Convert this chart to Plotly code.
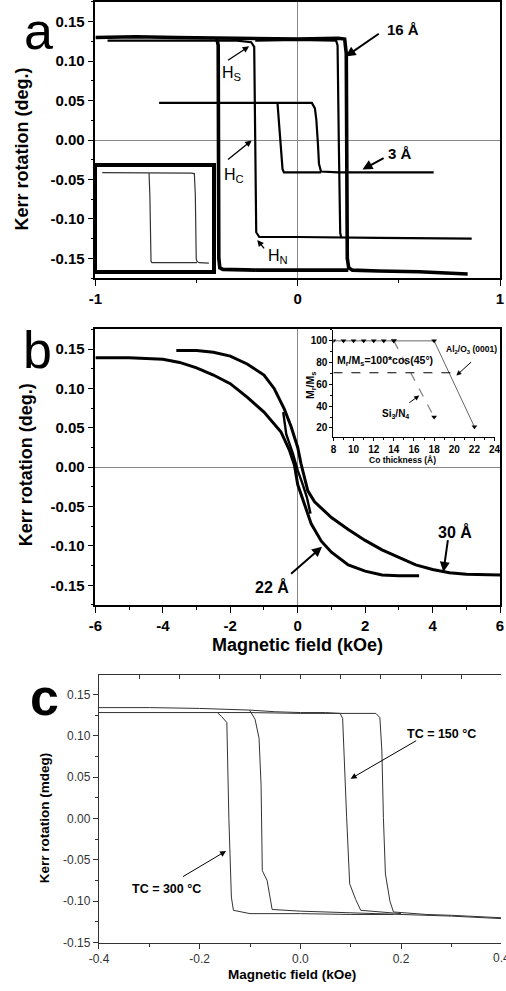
import numpy as np
import plotly.graph_objects as go

W, H = 506, 991
FONT = "Liberation Sans, Arial, Helvetica, sans-serif"

# ---------------- (a) Kerr loops of thin Co films (field in kOe, rotation in deg.)
a16_x = [-1.00, -0.80, -0.60, -0.40, -0.20, 0.00, 0.20, 0.232, 0.240, 0.245, 0.252, 0.27, 0.40, 0.60, 0.84,
         None, -0.400, -0.393, -0.390, -0.385, -0.37, -0.20, 0.00, 0.25]
a16_y = [0.130, 0.131, 0.130, 0.129, 0.129, 0.128, 0.129, 0.128, 0.110, -0.150, -0.162, -0.165, -0.166, -0.167, -0.170,
         None, 0.129, 0.120, -0.150, -0.162, -0.164, -0.165, -0.165, -0.165]

amid_x = [-0.94, -0.60, -0.30, -0.23, -0.215, -0.210, -0.205, -0.19, 0.00, 0.40, 0.86,
          None, -0.21, 0.00, 0.19, 0.197, 0.203, 0.210, 0.215]
amid_y = [0.126, 0.126, 0.126, 0.124, 0.118, 0.000, -0.117, -0.123, -0.123, -0.124, -0.125,
          None, 0.126, 0.127, 0.126, 0.120, 0.000, -0.118, -0.123]

a3_x = [-0.685, -0.40, -0.10, 0.070, 0.085, 0.092, 0.100, 0.105, 0.115, 0.20, 0.40, 0.672,
        None, -0.100, -0.090, -0.080, -0.075, -0.068, 0.00, 0.115]
a3_y = [0.047, 0.047, 0.047, 0.047, 0.040, 0.026, -0.005, -0.030, -0.040, -0.041, -0.041, -0.041,
        None, 0.047, 0.010, -0.025, -0.037, -0.041, -0.041, -0.041]

# small square loop shown in the framed box (normalised units)
ins_a_x = [-1.00, -0.50, 0.00, 0.70, 0.759, 0.778, 0.795, 0.809, 0.85, 1.037,
           None, -0.106, -0.090, -0.068, -0.050, 0.50, 0.809]
ins_a_y = [1.00, 1.00, 0.99, 0.99, 0.98, 0.50, -0.90, -0.963, -0.99, -1.00,
           None, 0.99, 0.50, -0.963, -0.99, -0.99, -0.99]

# ---------------- (b) thicker films, in-plane tilt of the magnetisation
b30_x = [-3.6, -3.0, -2.5, -2.0, -1.5, -1.0, -0.7, -0.4, -0.2, 0.0, 0.1, 0.3, 0.5, 1.0, 1.5, 2.0, 2.5, 3.0,
         3.5, 4.0, 4.5, 5.0, 6.0]
b30_y = [0.148, 0.148, 0.146, 0.141, 0.131, 0.117, 0.100, 0.074, 0.052, 0.025, 0.004, -0.030, -0.044, -0.064,
         -0.079, -0.093, -0.105, -0.115, -0.124, -0.130, -0.134, -0.136, -0.137]

b22_x = [-6.0, -5.0, -4.0, -3.5, -3.0, -2.5, -2.0, -1.5, -1.0, -0.5, -0.25, -0.1, 0.0, 0.2, 0.4, 0.7, 1.0,
         1.5, 2.0, 2.5, 3.0, 3.6]
b22_y = [0.139, 0.139, 0.137, 0.133, 0.126, 0.117, 0.106, 0.089, 0.070, 0.045, 0.022, 0.003, -0.022, -0.048,
         -0.072, -0.094, -0.108, -0.124, -0.132, -0.137, -0.138, -0.138]

bmid_x = [-0.43, -0.34, -0.14, 0.00, 0.14, 0.27, 0.38]
bmid_y = [0.070, 0.042, 0.017, -0.004, -0.021, -0.038, -0.059]

# inset: remanence ratio vs Co thickness
co_thk = [8, 9, 10, 11, 12, 13, 14, 18, 22]
al2o3_ratio = [100, 100, 100, 100, 100, 100, 100, 100, 21]
si3n4_thk = [14, 18]
si3n4_ratio = [100, 30]
ref_thk = [8, 20]
ref_ratio = [100 * np.cos(np.radians(45))] * 2

# ---------------- (c) loops after annealing
c300_x = [-0.40, -0.30, -0.20, -0.10, 0.00, 0.10, 0.150, 0.158, 0.162, 0.165, 0.169, 0.178, 0.185, 0.25, 0.30, 0.40,
          None, -0.165, -0.156, -0.146, -0.142, -0.137, -0.133, -0.10, 0.00, 0.10, 0.185]
c300_y = [0.128, 0.128, 0.128, 0.128, 0.127, 0.127, 0.127, 0.122, 0.081, 0.001, -0.067, -0.100, -0.113, -0.116,
          -0.117, -0.120, None, 0.128, 0.123, 0.116, 0.000, -0.095, -0.111, -0.115, -0.115, -0.116, -0.116]

c150_x = [-0.40, -0.30, -0.20, -0.12, -0.101, -0.090, -0.082, -0.078, -0.0756, -0.066, -0.056, 0.00, 0.10, 0.20,
          0.30, 0.40, None, -0.101, -0.05, 0.00, 0.05, 0.079, 0.084, 0.092, 0.098, 0.110, 0.120, 0.20]
c150_y = [0.134, 0.134, 0.133, 0.132, 0.131, 0.120, 0.097, 0.040, -0.063, -0.075, -0.110, -0.112, -0.114, -0.116,
          -0.118, -0.121, None, 0.131, 0.129, 0.128, 0.128, 0.127, 0.121, 0.001, -0.079, -0.098, -0.111, -0.115]

kerr_ticks = [-0.15, -0.10, -0.05, 0.00, 0.05, 0.10, 0.15]
a_xticks = [-1, 0, 1]
b_xticks = [-6, -4, -2, 0, 2, 4, 6]
c_xticks = [-0.4, -0.2, 0.0, 0.2]
c_top_ticks = list(np.round(np.arange(-0.4, 0.41, 0.08), 2))
ins_xticks = [8, 10, 12, 14, 16, 18, 20, 22, 24]
ins_yticks = [20, 40, 60, 80, 100]


def fmt(v, nd, bold=False):
    s = f"{v:.{nd}f}"
    return f"<b>{s}</b>" if bold else s


def px(xp):
    return xp / W


def py(yp):
    return 1 - yp / H


fig = go.Figure()


def add_line(x, y, xa, ya, width, color="black", dash=None, mode="lines", marker=None):
    fig.add_trace(go.Scatter(x=x, y=y, xaxis=xa, yaxis=ya, mode=mode,
                             line=dict(color=color, width=width, dash=dash),
                             marker=marker, hoverinfo="skip", showlegend=False))


add_line(a16_x, a16_y, "x", "y", 3.6)
add_line(amid_x, amid_y, "x", "y", 2.2)
add_line(a3_x, a3_y, "x", "y", 2.2)
add_line(ins_a_x, ins_a_y, "x5", "y5", 1.2, color="#333")

add_line(b30_x, b30_y, "x2", "y2", 3.0)
add_line(b22_x, b22_y, "x2", "y2", 3.0)
add_line(bmid_x, bmid_y, "x2", "y2", 2.4)

tri = dict(symbol="triangle-down", size=5, color="black")
add_line(co_thk, al2o3_ratio, "x4", "y4", 1.0, color="#666", mode="lines+markers", marker=tri)
add_line(si3n4_thk, si3n4_ratio, "x4", "y4", 1.3, color="#888", dash="dash", mode="lines+markers", marker=tri)
add_line(ref_thk, ref_ratio, "x4", "y4", 1.0, color="black", dash="dash")

add_line(c300_x, c300_y, "x3", "y3", 1.0, color="#333")
add_line(c150_x, c150_y, "x3", "y3", 1.0, color="#333")
fig.add_trace(go.Scatter(x=[], y=[], xaxis="x6", yaxis="y3", showlegend=False))

bold15 = dict(family=FONT, size=15, color="black")


def main_axis(ticks, nd, minor_dtick, rng, domain, anchor, font=bold15, color="black", lw=1.5,
              zeroline=True, mirror=True, ticklen=6, bold=True):
    return dict(domain=domain, range=rng, anchor=anchor, showgrid=False,
                zeroline=zeroline, zerolinecolor="#888", zerolinewidth=1.2,
                showline=True, linecolor=color, linewidth=lw, mirror=mirror,
                ticks="outside", ticklen=ticklen, tickwidth=1.3, tickcolor=color,
                tickmode="array", tickvals=ticks, ticktext=[fmt(t, nd, bold) for t in ticks],
                tickfont=font,
                minor=dict(tickmode="linear", tick0=0, dtick=minor_dtick, ticks="outside",
                           ticklen=3, tickwidth=1.1, tickcolor=color, showgrid=False))


dom_a = dict(x=[px(88), px(505)], y=[py(280), py(2)])
dom_b = dict(x=[px(88), px(505)], y=[py(609.3), py(331.7)])
dom_c = dict(x=[px(91.7), 1.0], y=[py(949.3), py(679.3)])

c_font = dict(family=FONT, size=12, color="#333")
ins_font = dict(family=FONT, size=10, color="black")

layout = dict(
    width=W, height=H, margin=dict(l=0, r=0, t=0, b=0),
    paper_bgcolor="white", plot_bgcolor="white", showlegend=False,
    font=dict(family=FONT, color="black"),
    xaxis=main_axis(a_xticks, 0, 0.5, [-1, 1], dom_a["x"], "y"),
    yaxis=main_axis(kerr_ticks, 2, 0.025, [-0.175, 0.175], dom_a["y"], "x"),
    xaxis2=main_axis(b_xticks, 0, 1, [-6, 6], dom_b["x"], "y2"),
    yaxis2=main_axis(kerr_ticks, 2, 0.025, [-0.175, 0.175], dom_b["y"], "x2"),
    xaxis3=main_axis(c_xticks, 1, 0.1, [-0.4, 0.3986], dom_c["x"], "y3", font=c_font, color="#333",
                     lw=1.2, zeroline=False, ticklen=5, bold=False),
    yaxis3=main_axis(kerr_ticks, 2, 0.025, [-0.15, 0.174], dom_c["y"], "x3", font=c_font, color="#333",
                     lw=1.2, zeroline=False, mirror=False, ticklen=5, bold=False),
    xaxis6=dict(overlaying="x3", anchor="y3", side="top", range=[-0.4, 0.3986], showgrid=False,
                zeroline=False, showline=False, showticklabels=False, ticks="inside", ticklen=4,
                tickcolor="#333", tickwidth=1, tickmode="array", tickvals=c_top_ticks),
    xaxis4=dict(domain=[px(333.3), px(500)], range=[8, 24.06], anchor="y4", showgrid=False, zeroline=False,
                showline=True, linecolor="black", linewidth=1, ticks="outside", ticklen=3, tickcolor="black",
                tickmode="array", tickvals=ins_xticks, ticktext=[f"<b>{t}</b>" for t in ins_xticks],
                tickfont=ins_font,
                minor=dict(tickmode="linear", tick0=8, dtick=1, ticks="outside", ticklen=2, tickcolor="black")),
    yaxis4=dict(domain=[py(440), py(332)], range=[11.8, 110.3], anchor="x4", showgrid=False, zeroline=False,
                showline=True, linecolor="black", linewidth=1, ticks="outside", ticklen=3, tickcolor="black",
                tickmode="array", tickvals=ins_yticks, ticktext=[f"<b>{t}</b>" for t in ins_yticks],
                tickfont=ins_font,
                minor=dict(tickmode="linear", tick0=0, dtick=10, ticks="outside", ticklen=2, tickcolor="black")),
    xaxis5=dict(domain=[px(90), px(208)], range=[-1.093, 1.093], anchor="y5", showgrid=False, zeroline=False,
                showline=True, linecolor="black", linewidth=4, mirror=True, ticks="", showticklabels=False),
    yaxis5=dict(domain=[py(272), py(168)], range=[-1.154, 1.13], anchor="x5", showgrid=False, zeroline=False,
                showline=True, linecolor="black", linewidth=4, mirror=True, ticks="", showticklabels=False),
)
fig.update_layout(**layout)

ann = []


def text(x, y, s, size, xref="paper", yref="paper", bold=True, angle=0, xanchor="center", color="black"):
    ann.append(dict(x=x, y=y, xref=xref, yref=yref, text=f"<b>{s}</b>" if bold else s, showarrow=False,
                    textangle=angle, xanchor=xanchor, yanchor="middle",
                    font=dict(family=FONT, size=size, color=color)))


def arrow(xa, ya, head, tail, width=1.6, size=1.0):
    ann.append(dict(x=head[0], y=head[1], xref=xa, yref=ya, ax=tail[0], ay=tail[1], axref=xa, ayref=ya,
                    text="", showarrow=True, arrowhead=2, arrowsize=size, arrowwidth=width,
                    arrowcolor="black", standoff=0, startstandoff=0))


# panel letters
text(px(29), py(31), "a", 52, bold=False)
text(px(28), py(352), "b", 52, bold=False)
text(px(35.5), py(702), "c", 52)

# axis titles
text(px(12), py(150), "Kerr rotation (deg.)", 18, angle=-90)
text(px(16), py(468), "Kerr rotation (deg.)", 18, angle=-90)
text(px(296), py(650), "Magnetic field (kOe)", 18)
text(px(35), py(823), "Kerr rotation (mdeg)", 13.5, angle=-90)
text(px(291), py(981.7), "Magnetic field (kOe)", 13.5)
text(px(506.7), py(965), "0.4", 12, bold=False, color="#333")

# panel (a) labels
text(0.52, 0.1398, "16 Å", 15, xref="x", yref="y")
arrow("x", "y", (0.237, 0.1058), (0.408, 0.136), width=2)
text(-0.325, 0.0844, "H<sub>S</sub>", 16, xref="x", yref="y", bold=False)
arrow("x", "y", (-0.24, 0.1188), (-0.352, 0.0999), width=1.3)
text(-0.315, -0.0453, "H<sub>C</sub>", 16, xref="x", yref="y", bold=False)
arrow("x", "y", (-0.2275, -0.0006), (-0.352, -0.0264), width=1.3)
text(0.508, -0.0176, "3 Å", 15, xref="x", yref="y")
arrow("x", "y", (0.32, -0.0374), (0.432, -0.0218), width=2)
text(-0.096, -0.1473, "H<sub>N</sub>", 16, xref="x", yref="y", bold=False)
arrow("x", "y", (-0.200, -0.1268), (-0.160, -0.1394), width=1.3)

# panel (b) labels
text(-0.77, -0.152, "22 Å", 16, xref="x2", yref="y2")
arrow("x2", "y2", (0.72, -0.101), (-0.24, -0.137), width=2)
text(4.67, -0.0823, "30 Å", 16, xref="x2", yref="y2")
arrow("x2", "y2", (4.32, -0.133), (4.46, -0.0908), width=2)

# inset of (b)
text(8.16, 81.1, "M<sub>r</sub>/M<sub>s</sub>=100*cos(45°)", 10.5, xref="x4", yref="y4", xanchor="left")
text(18.96, 92.1, "Al<sub>2</sub>/O<sub>3</sub> (0001)", 8.5, xref="x4", yref="y4", xanchor="left")
arrow("x4", "y4", (20.21, 68.1), (21.82, 81.8), width=1, size=1)
text(12.66, 33.0, "Si<sub>3</sub>/N<sub>4</sub>", 10, xref="x4", yref="y4", xanchor="left")
arrow("x4", "y4", (16.52, 49.8), (15.39, 42.2), width=1, size=1)
text(px(310), py(388), "M<sub>r</sub>/M<sub>s</sub>", 10.5, angle=-90)
text(px(404), py(463.3), "Co thickness (Å)", 8.5)

# panel (c) labels
text(0.281, 0.1018, "TC = 150 °C", 12.5, xref="x3", yref="y3")
arrow("x3", "y3", (0.0999, 0.048), (0.233, 0.095), width=1, size=1.2)
text(-0.266, -0.0853, "TC = 300 °C", 12.5, xref="x3", yref="y3")
arrow("x3", "y3", (-0.1475, -0.0393), (-0.236, -0.0713), width=1, size=1.2)

fig.update_layout(annotations=ann)
fig.write_html("out.html")
